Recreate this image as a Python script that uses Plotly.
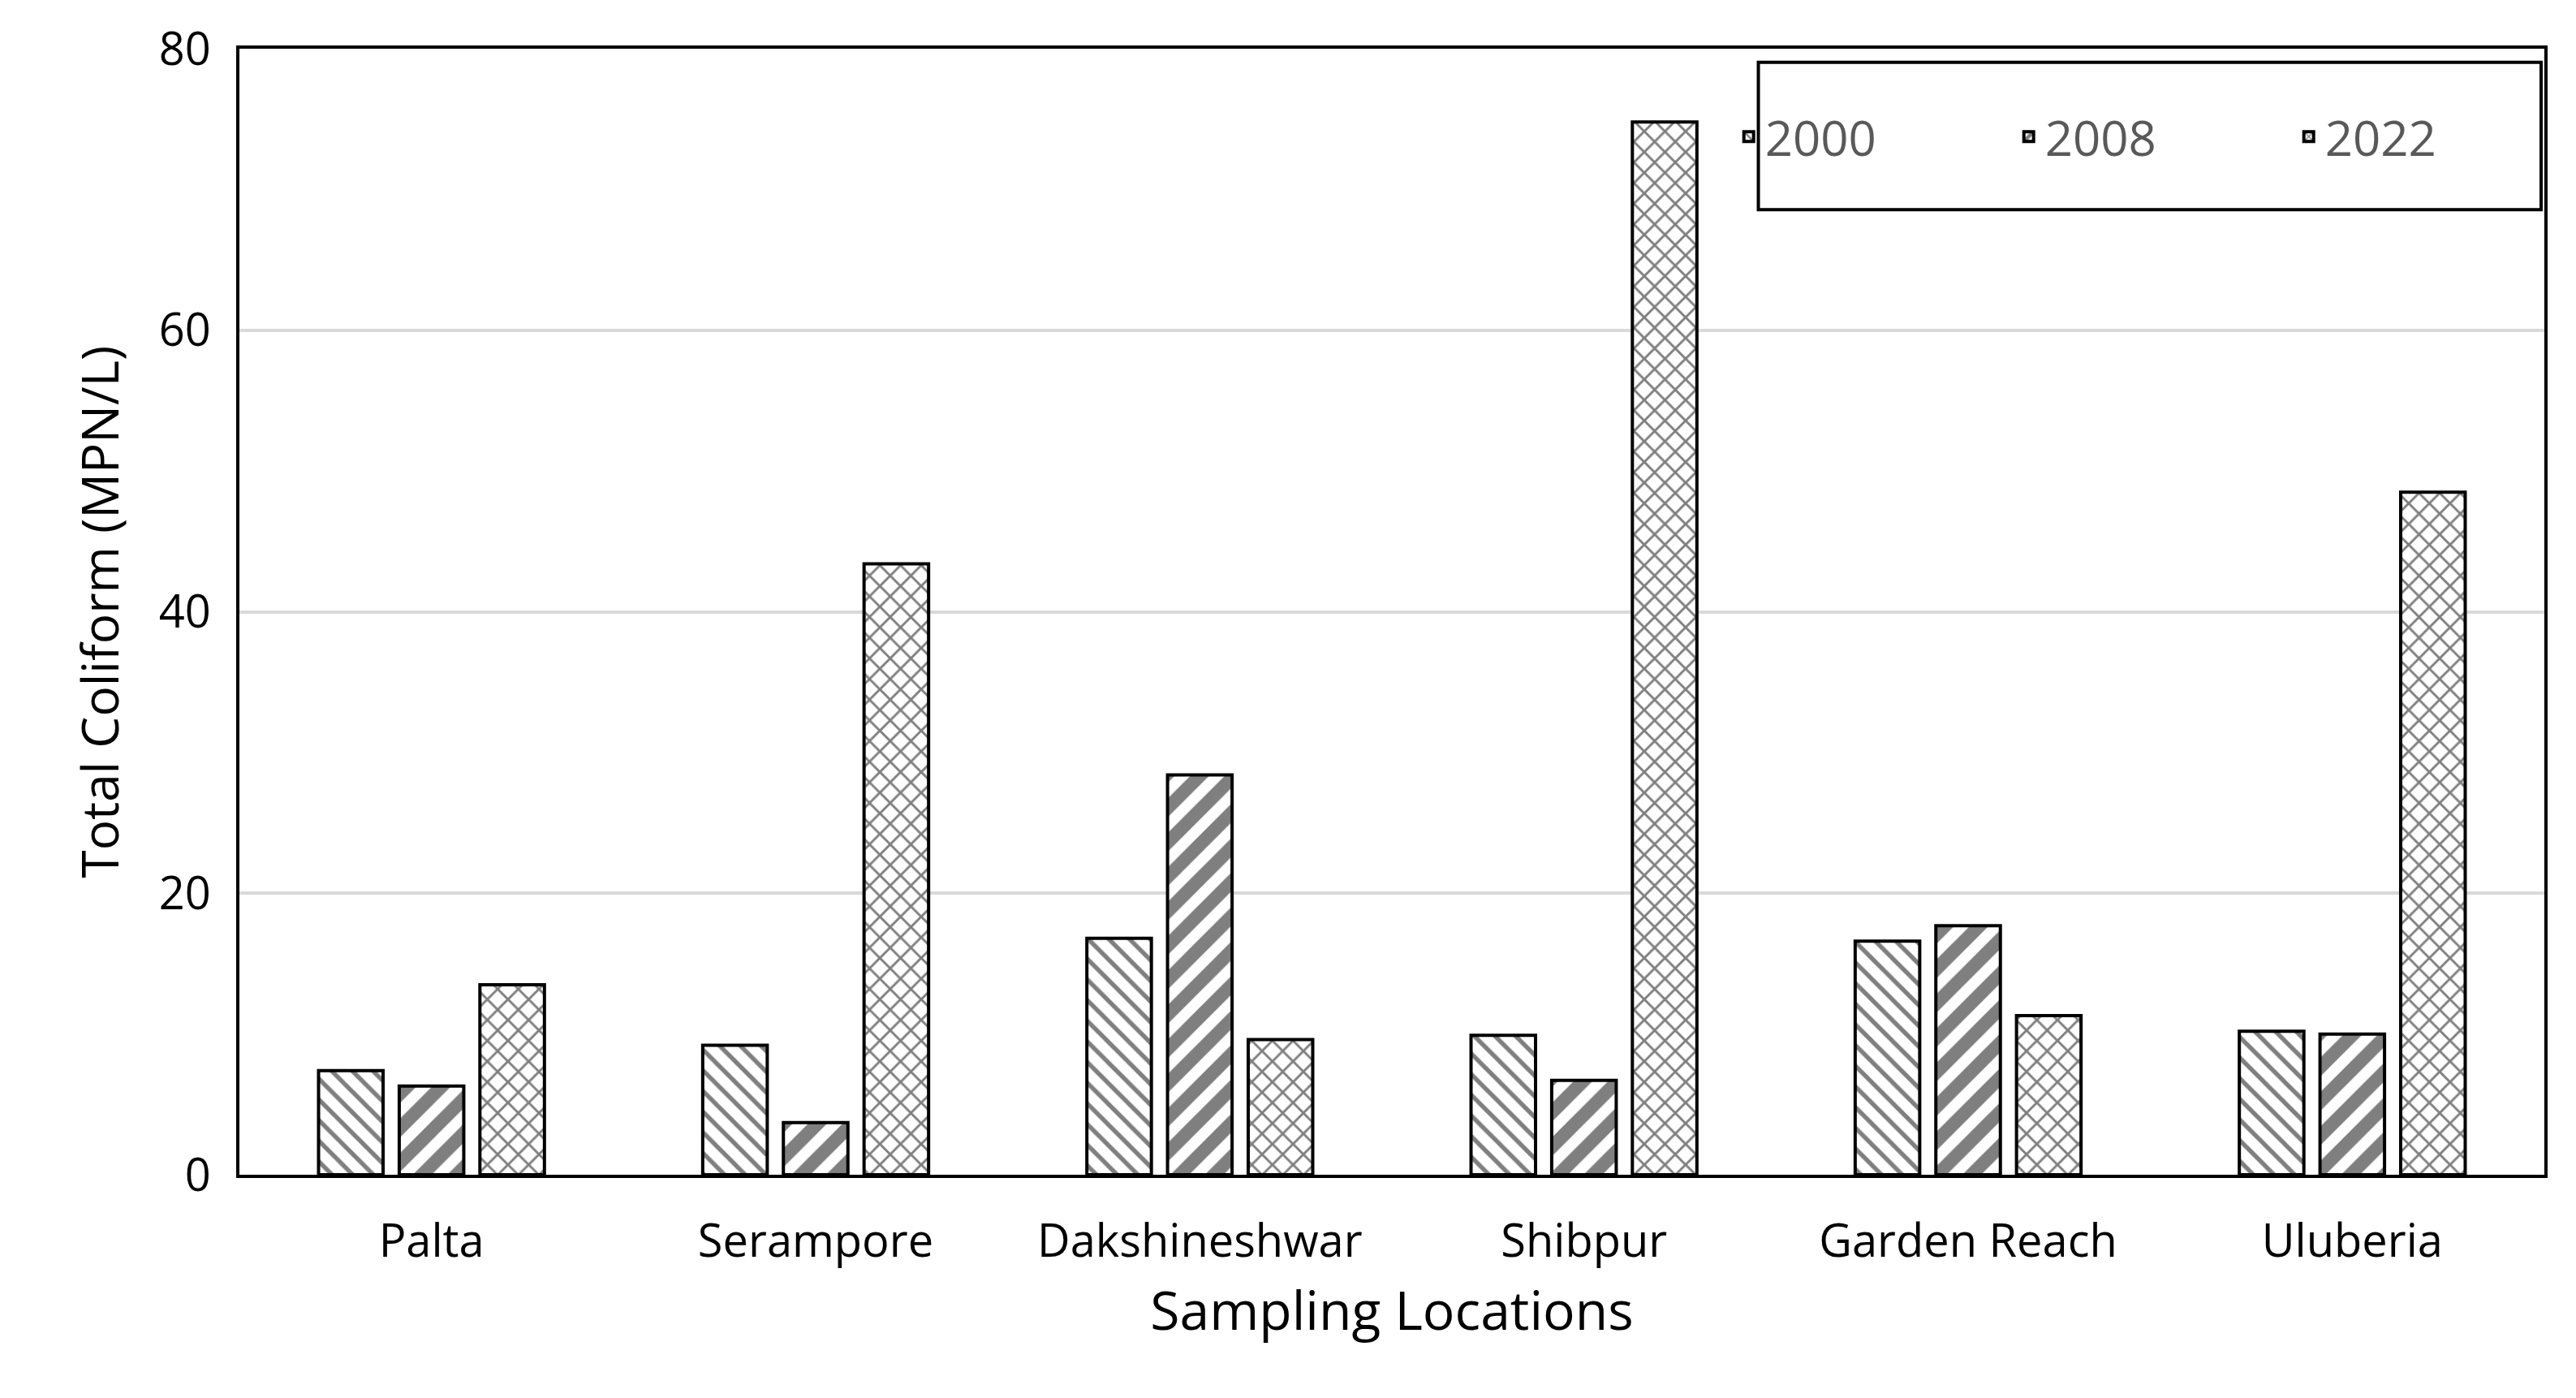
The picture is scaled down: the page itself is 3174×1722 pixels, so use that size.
import plotly.graph_objects as go

locations = ["Palta", "Serampore", "Dakshineshwar", "Shibpur", "Garden Reach", "Uluberia"]
v2000 = [7.4, 9.2, 16.8, 9.9, 16.6, 10.2]
v2008 = [6.3, 3.7, 28.4, 6.7, 17.7, 10.0]
v2022 = [13.5, 43.4, 9.6, 74.8, 11.3, 48.5]
series = [("2000", v2000, "\\", 0.3, 18), ("2008", v2008, "/", 0.55, 30), ("2022", v2022, "x", 0.3, 18)]

fig = go.Figure()
for name, vals, shape, sol, sz in series:
    fig.add_trace(go.Bar(
        x=locations, y=vals, name=name,
        marker=dict(color="white", line=dict(color="black", width=4),
                    pattern=dict(shape=shape, fgcolor="black", bgcolor="white", size=sz, solidity=sol)),
    ))

fig.add_shape(type="rect", xref="paper", yref="paper", x0=0.659, x1=0.9986, y0=0.857, y1=0.988,
              line=dict(color="black", width=4), fillcolor="white", layer="below")

fig.update_layout(
    width=3174, height=1722,
    paper_bgcolor="white", plot_bgcolor="white",
    margin=dict(l=287, r=37, t=45, b=283),
    barmode="group", bargap=0.37, bargroupgap=0.2,
    font=dict(family="Open Sans", size=56, color="black"),
    legend=dict(orientation="h", x=0.83, xanchor="center", y=0.922, yanchor="middle",
                borderwidth=0, bgcolor="rgba(0,0,0,0)",
                font=dict(size=60, color="#595959"), entrywidth=300),
    xaxis=dict(showline=True, linecolor="black", linewidth=4, mirror=True, ticks="",
               ticklabelstandoff=30,
               title=dict(text="Sampling Locations", font=dict(size=66), standoff=30)),
    yaxis=dict(range=[0, 80], dtick=20, showgrid=True, gridcolor="#d9d9d9", gridwidth=4,
               showline=True, linecolor="black", linewidth=4, mirror=True, ticks="",
               ticklabelstandoff=20,
               title=dict(text="Total Coliform (MPN/L)", font=dict(size=62), standoff=30),
               zeroline=False),
)
fig.write_html("out.html")
